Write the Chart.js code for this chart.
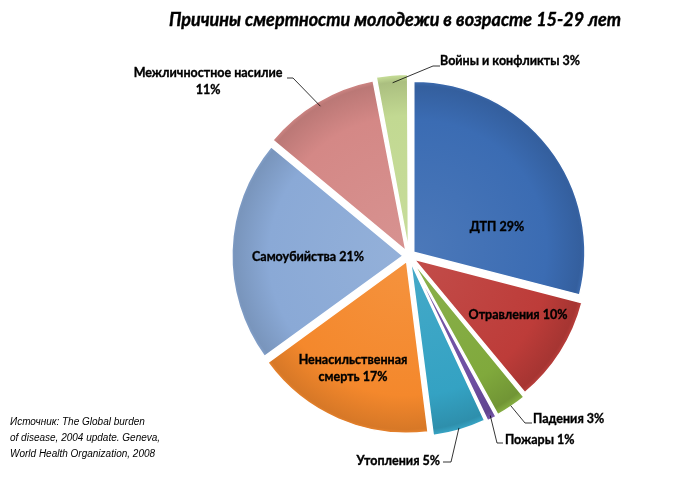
<!DOCTYPE html>
<html>
<head>
<meta charset="utf-8">
<script src="https://cdn.jsdelivr.net/npm/chart.js@4"></script>
<style>
  html, body { margin: 0; padding: 0; background: #fff; }
  canvas { display: block; }
</style>
</head>
<body>
<canvas id="deathChart" width="680" height="487"></canvas>
<script>
const chartTitle = 'Причины смертности молодежи в возрасте 15-29 лет';
const categories = [
  'ДТП',
  'Отравления',
  'Падения',
  'Пожары',
  'Утопления',
  'Ненасильственная смерть',
  'Самоубийства',
  'Межличностное насилие',
  'Войны и конфликты',
];
const shares = [29, 10, 3, 1, 5, 17, 21, 11, 3];
const sourceLines = [
  'Источник: The Global burden',
  'of disease, 2004 update. Geneva,',
  'World Health Organization, 2008',
];

const sliceColors = ['#3b6cb3', '#bd3c39', '#80a93c', '#6e4ea2', '#34a2c3',
  '#f4882c', '#8aa9d6', '#d48886', '#c2d992'];

// where each label goes, relative to the pie centre
// inside: dx/dy of first line; outside: leader elbow (ex, ey), tick, text anchor
const labelLayout = [
  { inside: true, dx: 88, dy: -29 },
  { inside: true, dx: 109, dy: 59 },
  { rs: 4, ex: 116, ey: 167, tick: 7, tx: 124, ty: 163, align: 'left' },
  { rs: 2, ex: 88, ey: 187, tick: 6, tx: 96, ty: 184, align: 'left' },
  { rs: 2, ex: 42, ey: 206, tick: -8, tx: 31, ty: 205, align: 'right' },
  { inside: true, dx: -56, dy: 104, breakAt: 1 },
  { inside: true, dx: -101, dy: 1 },
  { rs: -3, ex: -116, ey: -178, tick: -6, tx: -201, ty: -183, align: 'center', breakAt: 2 },
  { rs: -3, ex: 24, ey: -190, tick: 7, tx: 31, ty: -195, align: 'left' },
];

const PIE_RADIUS = 171;
const SLICE_SHIFT = 6; // px each slice is pulled out (Chart.js draws offset / 4)
const LABEL_FONT = 'bold 12.5px Lato, "Open Sans", sans-serif';

function shade(hex, amt) {
  // amt > 0 mixes with white, amt < 0 with black
  const n = parseInt(hex.slice(1), 16);
  let rgb = [(n >> 16) & 255, (n >> 8) & 255, n & 255];
  rgb = rgb.map((c) => {
    const t = amt > 0 ? 255 : 0;
    return Math.round(c + (t - c) * Math.abs(amt));
  });
  return `rgb(${rgb[0]},${rgb[1]},${rgb[2]})`;
}

function sliceFill(context) {
  const chart = context.chart;
  const area = chart.chartArea;
  const base = sliceColors[context.dataIndex];
  if (!area) return base;
  const data = context.dataset.data;
  const total = data.reduce((a, b) => a + b, 0);
  const before = data.slice(0, context.dataIndex).reduce((a, b) => a + b, 0);
  const mid = -Math.PI / 2 + ((before + data[context.dataIndex] / 2) / total) * Math.PI * 2;
  const cx = (area.left + area.right) / 2 + Math.cos(mid) * SLICE_SHIFT;
  const cy = (area.top + area.bottom) / 2 + Math.sin(mid) * SLICE_SHIFT;
  const g = chart.ctx.createRadialGradient(cx, cy, 0, cx, cy, PIE_RADIUS);
  g.addColorStop(0, shade(base, 0.08));
  g.addColorStop(0.75, base);
  g.addColorStop(0.95, shade(base, -0.12));
  g.addColorStop(0.985, shade(base, 0.02));
  g.addColorStop(1, shade(base, 0.2));
  return g;
}

function labelLines(i, breakAt) {
  const words = `${categories[i]} ${shares[i]}%`.split(' ');
  if (!breakAt) return [words.join(' ')];
  return [words.slice(0, breakAt).join(' '), words.slice(breakAt).join(' ')];
}

// heavy text: fill plus a hairline stroke, the original labels are very bold
function boldText(ctx, t, x, y) {
  ctx.fillText(t, x, y);
  ctx.strokeText(t, x, y);
}

const sliceLabels = {
  id: 'sliceLabels',
  afterDatasetsDraw(chart) {
    const { ctx } = chart;
    const meta = chart.getDatasetMeta(0);
    ctx.save();
    ctx.font = LABEL_FONT;
    ctx.fillStyle = '#000';
    ctx.strokeStyle = '#000';
    ctx.textBaseline = 'middle';
    meta.data.forEach((arc, i) => {
      const p = labelLayout[i];
      const { x, y, startAngle, endAngle, outerRadius } =
        arc.getProps(['x', 'y', 'startAngle', 'endAngle', 'outerRadius'], true);
      const lines = labelLines(i, p.breakAt);
      const lh = 17;
      ctx.lineWidth = 0.35;
      if (p.inside) {
        ctx.textAlign = 'center';
        lines.forEach((t, k) => boldText(ctx, t, x + p.dx, y + p.dy + k * lh));
        return;
      }
      const mid = (startAngle + endAngle) / 2;
      const r = outerRadius + SLICE_SHIFT + p.rs;
      ctx.textAlign = p.align;
      lines.forEach((t, k) => boldText(ctx, t, x + p.tx, y + p.ty + k * lh));
      ctx.lineWidth = 0.8;
      ctx.beginPath();
      ctx.moveTo(x + Math.cos(mid) * r, y + Math.sin(mid) * r);
      ctx.lineTo(x + p.ex, y + p.ey);
      ctx.lineTo(x + p.ex + p.tick, y + p.ey);
      ctx.stroke();
    });
    ctx.restore();
  },
};

const textBlocks = {
  id: 'textBlocks',
  afterDraw(chart) {
    const { ctx } = chart;
    ctx.save();
    ctx.fillStyle = '#000';
    ctx.strokeStyle = '#000';
    ctx.lineWidth = 0.4;
    ctx.textBaseline = 'middle';
    ctx.textAlign = 'center';
    ctx.font = 'bold italic 18px Lato, sans-serif';
    boldText(ctx, chartTitle, 395, 20);
    ctx.textAlign = 'left';
    ctx.font = 'italic 10px "Liberation Sans", sans-serif';
    sourceLines.forEach((t, k) => ctx.fillText(t, 10, 422 + k * 16));
    ctx.restore();
  },
};

const deathChart = new Chart(document.getElementById('deathChart'), {
  type: 'pie',
  data: {
    labels: categories,
    datasets: [{
      data: shares,
      backgroundColor: sliceFill,
      borderColor: '#ffffff',
      borderWidth: 1.5,
      offset: SLICE_SHIFT * 4,
      radius: PIE_RADIUS,
    }],
  },
  options: {
    responsive: false,
    animation: false,
    layout: { padding: { left: 148, right: 10, top: 35, bottom: 10 } },
    plugins: {
      legend: { display: false },
      tooltip: { enabled: false },
    },
  },
  plugins: [sliceLabels, textBlocks],
});
</script>
</body>
</html>
